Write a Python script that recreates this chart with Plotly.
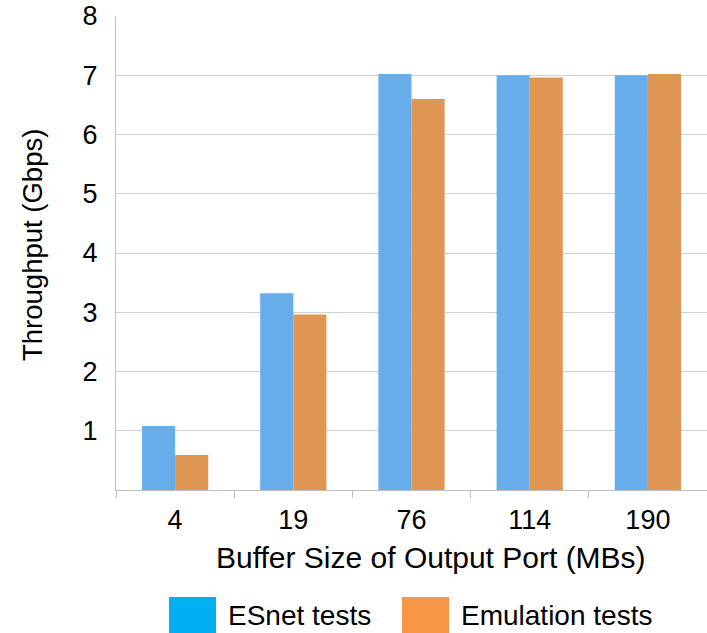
import plotly.graph_objects as go

categories = ["4", "19", "76", "114", "190"]
esnet = [1.08, 3.32, 7.02, 7.00, 7.00]
emulation = [0.59, 2.96, 6.60, 6.96, 7.02]
y_ticks = [1, 2, 3, 4, 5, 6, 7, 8]
series_names = ["ESnet tests", "Emulation tests"]
x_title = "Buffer Size of Output Port (MBs)"
y_title = "Throughput (Gbps)"

W, H = 707, 633
ML, MR, MT, MB = 116, 0, 16, 143
PW, PH = W - ML - MR, H - MT - MB

def px(x):
    return (x - ML) / PW

def py(y):
    return (H - MB - y) / PH

FONT = "Liberation Sans, Arial, sans-serif"
bar_colors = ["#67ADEA", "#DF9652"]
legend_colors = ["#00B0F0", "#F79646"]

fig = go.Figure()
fig.add_trace(go.Bar(x=categories, y=esnet, name=series_names[0],
                     marker=dict(color=bar_colors[0], line=dict(width=0)), showlegend=False))
fig.add_trace(go.Bar(x=categories, y=emulation, name=series_names[1],
                     marker=dict(color=bar_colors[1], line=dict(width=0)), showlegend=False))

shapes = []
annotations = []
legend_boxes = [(169, 216), (402, 449)]
legend_text_x = [226, 459]
for i in range(2):
    x0, x1 = legend_boxes[i]
    shapes.append(dict(type="rect", xref="paper", yref="paper",
                       x0=px(x0), x1=px(x1), y0=py(597), y1=py(634),
                       fillcolor=legend_colors[i], line=dict(width=0)))
    annotations.append(dict(xref="paper", yref="paper", x=px(legend_text_x[i]), y=py(615),
                            xanchor="left", yanchor="middle", showarrow=False,
                            text=series_names[i], font=dict(size=28, color="black", family=FONT)))

annotations.append(dict(xref="paper", yref="paper", x=px(431), y=py(557),
                        xanchor="center", yanchor="middle", showarrow=False,
                        text=x_title, font=dict(size=30, color="black", family=FONT)))
annotations.append(dict(xref="paper", yref="paper", x=px(32), y=py(245),
                        xanchor="center", yanchor="middle", showarrow=False, textangle=-90,
                        text=y_title, font=dict(size=27.5, color="black", family=FONT)))

fig.update_layout(
    width=W, height=H,
    margin=dict(l=ML, r=MR, t=MT, b=MB, pad=0),
    paper_bgcolor="white", plot_bgcolor="white",
    barmode="group", bargap=0.44, bargroupgap=0,
    font=dict(family=FONT, color="black"),
    shapes=shapes, annotations=annotations,
    showlegend=False,
)
fig.update_xaxes(
    type="category",
    showline=True, linecolor="#BFBFBF", linewidth=1.2,
    ticks="outside", tickson="boundaries", ticklen=7, tickcolor="#BFBFBF",
    ticklabelstandoff=5,
    tickfont=dict(size=27, color="black"),
    showgrid=False, automargin=False,
)
fig.update_yaxes(
    range=[0, 8], tickvals=y_ticks, ticktext=[str(v) for v in y_ticks],
    showgrid=True, gridcolor="#D0D0D0", gridwidth=1.2,
    showline=True, linecolor="#BFBFBF", linewidth=1.2,
    ticks="", ticklabelstandoff=12,
    tickfont=dict(size=27, color="black"),
    zeroline=False, automargin=False,
)

fig.write_html("out.html", config={"displayModeBar": False},
               post_script="document.body.style.margin='0';document.body.style.overflow='hidden';")
